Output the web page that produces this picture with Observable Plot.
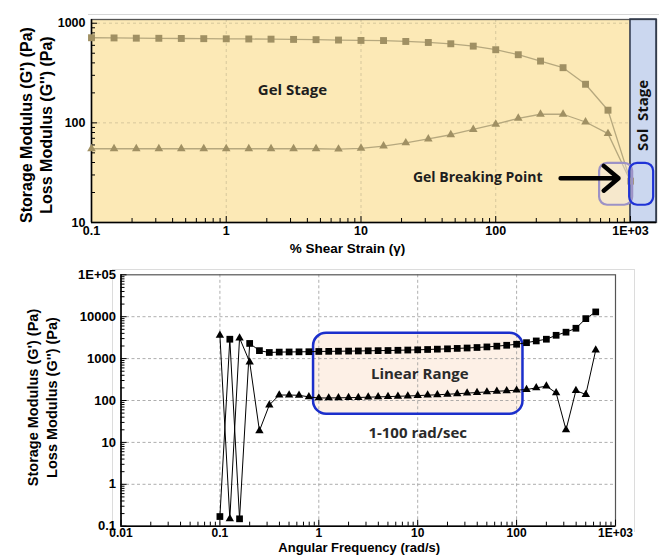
<!DOCTYPE html>
<html><head><meta charset="utf-8">
<script src="https://cdn.jsdelivr.net/npm/d3@7"></script>
<script src="https://cdn.jsdelivr.net/npm/@observablehq/plot@0.6"></script>
<style>
body{margin:0;background:#fff;width:659px;height:555px;position:relative;overflow:hidden;font-family:"Liberation Sans",Arial,sans-serif}
#top{position:absolute;left:0;top:0}
#bot{position:absolute;left:0;top:258px}
.b1{position:absolute;left:88px;top:14px;width:571px;height:0;border-top:1px solid #d6d6d6}
.b2{position:absolute;left:112px;top:269px;width:521px;height:262px;border:1px solid #dcdcdc;border-bottom:none}
svg text{font-weight:bold}
</style></head><body>
<div class="b1"></div><div class="b2"></div>
<div id="top"></div><div id="bot"></div>
<script>
// ---------- Top panel: amplitude sweep ----------
const strainX = [0.1,0.147,0.215,0.316,0.464,0.681,1,1.47,2.15,3.16,4.64,6.81,10,14.7,21.5,31.6,46.4,68.1,100,147,215,316,464,681,1000];
const storageTop = [715,712,708,706,703,700,698,695,692,688,684,678,672,670,656,641,622,589,542,483,417,358,244,134,26];
const lossTop = [55,55,55,55,55,55,55,55,55,55,55,54.5,55.5,58.5,63,69,76,86,97,111,122,122,102,78,26];
const topXTicks = [0.1,1,10,100,1000];
const topXLabels = ["0.1","1","10","100","1E+03"];
const topYTicks = [10,100,1000];
const topYLabels = ["10","100","1000"];
const stages = [{x1:0.1,x2:1000,fill:"#fce9b6"},{x1:1000,x2:1560,fill:"#cbd7ef"}];
const topNotes = [
  {x:3.1, y:212, text:"Gel Stage", size:15},
  {x:73.5, y:28.6, text:"Gel Breaking Point", size:14}
];
const solNote = [{x:1253, y:119, text:"Sol  Stage"}];
const breakArrow = [{x1:303, x2:815, y:27.8}];
const breakBoxes = [
  {x1:590, x2:1038, y1:14.9, y2:39.3, stroke:"#9c92c6", fill:"#ece8f6", op:0.35},
  {x1:986, x2:1486, y1:14.9, y2:39.3, stroke:"#1f33d6", fill:"none", op:0}
];

// ---------- Bottom panel: frequency sweep ----------
const freqX = [0.1,0.126,0.158,0.2,0.251,0.316,0.398,0.501,0.631,0.794,1,1.26,1.58,2,2.51,3.16,3.98,5.01,6.31,7.94,10,12.6,15.8,20,25.1,31.6,39.8,50.1,63.1,79.4,100,126,158,200,251,316,398,501,631];
const storageBot = [0.17,2900,0.15,2300,1550,1400,1430,1440,1450,1460,1480,1490,1500,1510,1520,1535,1550,1560,1580,1600,1620,1650,1680,1710,1750,1790,1840,1900,1980,2080,2200,2400,2640,2900,3600,4270,5300,9000,13000];
const lossBot = [3600,0.15,3100,830,19,78,135,135,133,122,115,115,116,117,118,120,122,124,126,128,131,134,137,141,145,150,155,160,166,171,176,183,200,220,152,20,173,139,1590];
const botXTicks = [0.01,0.1,1,10,100,1000];
const botXLabels = ["0.01","0.1","1","10","100","1E+03"];
const botYTicks = [0.1,1,10,100,1000,10000,100000];
const botYLabels = ["0.1","1","10","100","1000","10000","1E+05"];
const linearBox = [{x1:0.885, x2:116, y1:47, y2:4040}];
const botNotes = [
  {x:10.5, y:434, text:"Linear Range"},
  {x:10, y:16.6, text:"1-100 rad/sec"}
];
const yTitle = "Storage Modulus (G') (Pa)\nLoss Modulus (G'') (Pa)";

function minors(lo, hi){ const out=[]; for(let e=lo;e<hi;e++) for(let m=2;m<=9;m++) out.push(+(m*Math.pow(10,e)).toPrecision(3)); return out; }
const lab = (ticks, labels) => d => labels[ticks.findIndex(t => Math.abs(t-d)/t < 1e-6)];

// top layout
const T = {w:659,h:258,ml:91,mr:3,mt:19,mb:36};
const tfw = T.w-T.ml-T.mr, tfh = T.h-T.mt-T.mb;
const topRows = strainX.map((x,i)=>({x, s:storageTop[i], l:lossTop[i]}));

const topPlot = Plot.plot({
  width:T.w, height:T.h, marginLeft:T.ml, marginRight:T.mr, marginTop:T.mt, marginBottom:T.mb,
  x:{type:"log", domain:[0.1,1560]},
  y:{type:"log", domain:[10,1090]},
  style:{fontFamily:"Liberation Sans, Arial, sans-serif", fontSize:"12.5px", color:"#000", background:"transparent", overflow:"visible"},
  marks:[
    Plot.rect(stages, {x1:"x1", x2:"x2", y1:10, y2:1090, fill:d=>d.fill}),
    Plot.ruleX([1,10,100], {stroke:"#cdbf96", strokeDasharray:"3,3", strokeWidth:0.8}),
    Plot.ruleY([100,1000], {x1:0.1, x2:1000, stroke:"#cdbf96", strokeDasharray:"3,3", strokeWidth:0.8}),
    Plot.frame({stroke:"#555", strokeWidth:1.3}),
    Plot.rect(stages.slice(1), {x1:"x1", x2:"x2", y1:10, y2:1090, fill:"none", stroke:"#2a3448", strokeWidth:1.5}),
    Plot.tickX(minors(-1,3), {x:d=>d, insetTop:tfh-4, stroke:"#000"}),
    Plot.tickX(topXTicks, {x:d=>d, insetTop:tfh-6, stroke:"#000"}),
    Plot.tickY(minors(1,3), {y:d=>d, insetRight:tfw-4, stroke:"#000"}),
    Plot.tickY(topYTicks, {y:d=>d, insetRight:tfw-6, stroke:"#000"}),
    Plot.ruleX([0.1], {stroke:"#000", strokeWidth:1.5}),
    Plot.ruleY([10], {stroke:"#000", strokeWidth:1.5}),
    Plot.line(topRows, {x:"x", y:"s", stroke:"#b6a87e", strokeWidth:1.3}),
    Plot.line(topRows, {x:"x", y:"l", stroke:"#b6a87e", strokeWidth:1.3}),
    Plot.dot(topRows, {x:"x", y:"s", symbol:"square", r:3.9, fill:"#a09063"}),
    Plot.dot(topRows.slice(0,-1), {x:"x", y:"l", symbol:"triangle", r:3.2, fill:"#a09063"}),
    Plot.rect(breakBoxes, {x1:"x1", x2:"x2", y1:"y1", y2:"y2", rx:8, fill:d=>d.fill, fillOpacity:d=>d.op, stroke:d=>d.stroke, strokeWidth:2.2}),
    Plot.arrow(breakArrow, {x1:"x1", x2:"x2", y1:"y", y2:"y", stroke:"#000", strokeWidth:4.5, headLength:11, headAngle:80}),
    Plot.text(topNotes, {x:"x", y:"y", text:"text", fontSize:d=>d.size, fontFamily:"Open Sans, sans-serif", fontWeight:700, fill:"#1e1e1e"}),
    Plot.text(solNote, {x:"x", y:"y", text:"text", rotate:-90, fontSize:15, fontFamily:"Open Sans, sans-serif", fontWeight:700, fill:"#111"}),
    Plot.axisX(topXTicks, {tickSize:0, tickPadding:4, tickFormat:lab(topXTicks, topXLabels), label:null, fontWeight:"bold"}),
    Plot.axisY(topYTicks, {tickSize:0, tickPadding:6, tickFormat:lab(topYTicks, topYLabels), label:null, fontWeight:"bold"}),
    Plot.text([yTitle], {frameAnchor:"left", textAnchor:"middle", lineAnchor:"middle", dx:-55.5, dy:4, rotate:-90, text:d=>d, lineHeight:1.25, fontSize:16, fontWeight:"bold", fill:"#000"}),
    Plot.text(["% Shear Strain (\u03b3)"], {frameAnchor:"bottom", textAnchor:"middle", lineAnchor:"middle", dx:-26.5, dy:26, text:d=>d, fontSize:13.5, fontWeight:"bold", fill:"#000"})
  ]
});
document.getElementById("top").appendChild(topPlot);

// bottom layout
const B = {w:659,h:297,ml:120.5,mr:44,mt:16.3,mb:29.3};
const bfw = B.w-B.ml-B.mr, bfh = B.h-B.mt-B.mb;
const botRows = freqX.map((x,i)=>({x, s:storageBot[i], l:lossBot[i]}));

const botPlot = Plot.plot({
  width:B.w, height:B.h, marginLeft:B.ml, marginRight:B.mr, marginTop:B.mt, marginBottom:B.mb,
  x:{type:"log", domain:[0.01,1000]},
  y:{type:"log", domain:[0.1,100000]},
  style:{fontFamily:"Liberation Sans, Arial, sans-serif", fontSize:"12px", color:"#000", background:"transparent", overflow:"visible"},
  marks:[
    Plot.rect(linearBox, {x1:"x1", x2:"x2", y1:"y1", y2:"y2", rx:13, fill:"#fdf0e6"}),
    Plot.ruleX([0.1,1,10,100], {stroke:"#999", strokeDasharray:"3,2.5", strokeWidth:0.8}),
    Plot.ruleY([1,10,100,1000,10000], {stroke:"#999", strokeDasharray:"3,2.5", strokeWidth:0.8}),
    Plot.frame({stroke:"#555", strokeWidth:1.2}),
    Plot.rect(linearBox, {x1:"x1", x2:"x2", y1:"y1", y2:"y2", rx:13, fill:"none", stroke:"#1b2fcc", strokeWidth:2.5}),
    Plot.tickX(minors(-2,3), {x:d=>d, insetTop:bfh-4, stroke:"#000"}),
    Plot.tickX(botXTicks, {x:d=>d, insetTop:bfh-6, stroke:"#000"}),
    Plot.tickY(minors(-1,5), {y:d=>d, insetRight:bfw-4, stroke:"#000"}),
    Plot.tickY(botYTicks, {y:d=>d, insetRight:bfw-6, stroke:"#000"}),
    Plot.ruleX([0.01], {stroke:"#000", strokeWidth:1.5}),
    Plot.ruleY([0.1], {stroke:"#000", strokeWidth:1.5}),
    Plot.line(botRows, {x:"x", y:"s", stroke:"#000", strokeWidth:1}),
    Plot.line(botRows, {x:"x", y:"l", stroke:"#000", strokeWidth:1}),
    Plot.dot(botRows, {x:"x", y:"s", symbol:"square", r:3.8, fill:"#000"}),
    Plot.dot(botRows, {x:"x", y:"l", symbol:"triangle", r:3.1, fill:"#000"}),
    Plot.text(botNotes, {x:"x", y:"y", text:"text", fontSize:15, fontFamily:"Open Sans, sans-serif", fontWeight:700, fill:"#2a2a2a"}),
    Plot.axisX(botXTicks, {tickSize:0, tickPadding:2, tickFormat:lab(botXTicks, botXLabels), label:null, fontWeight:"bold"}),
    Plot.axisY(botYTicks, {tickSize:0, tickPadding:5, tickFormat:lab(botYTicks, botYLabels), label:null, fontWeight:"bold", fontSize:13}),
    Plot.text([yTitle], {frameAnchor:"left", textAnchor:"middle", lineAnchor:"middle", dx:-79.5, dy:-3, rotate:-90, text:d=>d, lineHeight:1.3, fontSize:14.5, fontWeight:"bold", fill:"#000"}),
    Plot.text(["Angular Frequency (rad/s)"], {frameAnchor:"bottom", textAnchor:"middle", lineAnchor:"middle", dx:-9, dy:21.8, text:d=>d, fontSize:13, fontWeight:"bold", fill:"#000"})
  ]
});
document.getElementById("bot").appendChild(botPlot);
</script>
</body></html>
